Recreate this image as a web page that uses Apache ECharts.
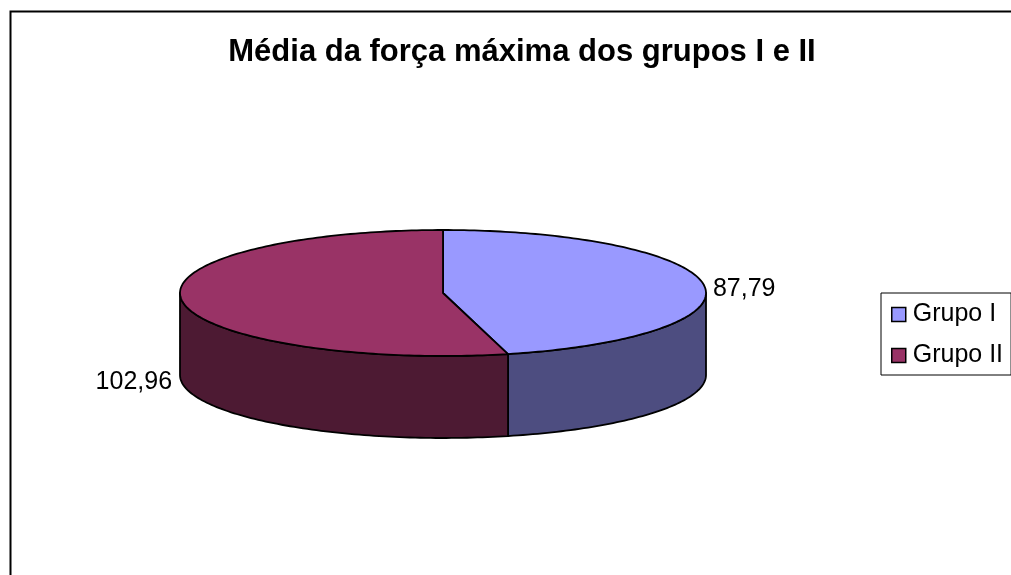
<!DOCTYPE html>
<html>
<head>
<meta charset="utf-8">
<script src="https://cdn.jsdelivr.net/npm/echarts@6/dist/echarts.min.js"></script>
<style>
  html, body { margin: 0; padding: 0; background: #fff; }
  #chart { width: 1011px; height: 575px; }
</style>
</head>
<body>
<div id="chart"></div>
<script>
// dados
const categories = ['Grupo I', 'Grupo II'];
const values = [87.79, 102.96];
const topColors = ['#9999FF', '#993366'];
const sideColors = ['#4D4D80', '#4D1A33'];

// pizza 3D (elipse + altura)
const pie = { cx: 443, cy: 293, rx: 263, ry: 63, depth: 82 };
const total = values.reduce((a, b) => a + b, 0);

const pt = (t, dy) => [pie.cx + pie.rx * Math.sin(t), pie.cy - pie.ry * Math.cos(t) + (dy || 0)];

const arc = (a, b, dy) => {
    const pts = [];
    const n = Math.max(2, Math.ceil((b - a) / 0.02));
    for (let k = 0; k <= n; k++) pts.push(pt(a + (b - a) * k / n, dy));
    return pts;
};

const lineStyle = { stroke: '#000', lineWidth: 1.8, lineJoin: 'round' };

function renderSlice(i) {
    const before = values.slice(0, i).reduce((a, b) => a + b, 0);
    const a = before / total * Math.PI * 2;
    const b = (before + values[i]) / total * Math.PI * 2;
    const children = [];

    // lateral visivel (metade da frente)
    const s0 = Math.max(a, Math.PI / 2), s1 = Math.min(b, Math.PI * 1.5);
    if (s1 > s0) {
        const pts = arc(s0, s1, 0).concat(arc(s0, s1, pie.depth).reverse());
        children.push({ type: 'polygon', shape: { points: pts },
            style: Object.assign({ fill: sideColors[i] }, lineStyle) });
    }

    // topo
    const topPts = [[pie.cx, pie.cy]].concat(arc(a, b, 0));
    children.push({ type: 'polygon', shape: { points: topPts },
        style: Object.assign({ fill: topColors[i] }, lineStyle) });

    // rótulo
    const m = (a + b) / 2;
    const p = pt(m, Math.cos(m) < 0 ? pie.depth : 0);
    const right = Math.sin(m) >= 0;
    children.push({ type: 'text', x: p[0] + (right ? 9 : -10), y: p[1] + (right ? 4 : -1),
        style: { text: values[i].toFixed(2).replace('.', ','), fill: '#000',
            fontSize: 25, fontFamily: 'Liberation Sans',
            align: right ? 'left' : 'right', verticalAlign: 'middle' } });

    return { type: 'group', children };
}

const chart = echarts.init(document.getElementById('chart'));
chart.setOption({
    animation: false,
    title: {
        text: 'Média da força máxima dos grupos I e II',
        left: 517, top: 32, textAlign: 'center',
        textStyle: { fontSize: 31, fontWeight: 'bold', fontFamily: 'Liberation Sans', color: '#000' }
    },
    legend: {
        data: categories,
        orient: 'vertical',
        left: 881, top: 293,
        padding: [9, 8, 7, 10],
        itemGap: 16,
        itemWidth: 14, itemHeight: 14,
        icon: 'rect',
        selectedMode: false,
        borderColor: '#000', borderWidth: 1,
        itemStyle: { borderColor: '#000', borderWidth: 1.5 },
        textStyle: { fontSize: 25, fontFamily: 'Liberation Sans', color: '#000', padding: [0, 0, 0, 2] }
    },
    graphic: [{
        type: 'rect', left: 8, top: 9, silent: true,
        shape: { width: 1100, height: 700 },
        style: { fill: 'none', stroke: '#000', lineWidth: 2 }
    }],
    series: categories.map((name, i) => ({
        type: 'custom',
        name,
        coordinateSystem: 'none',
        silent: true,
        itemStyle: { color: topColors[i] },
        data: [values[i]],
        renderItem: () => renderSlice(i)
    }))
});
</script>
</body>
</html>
